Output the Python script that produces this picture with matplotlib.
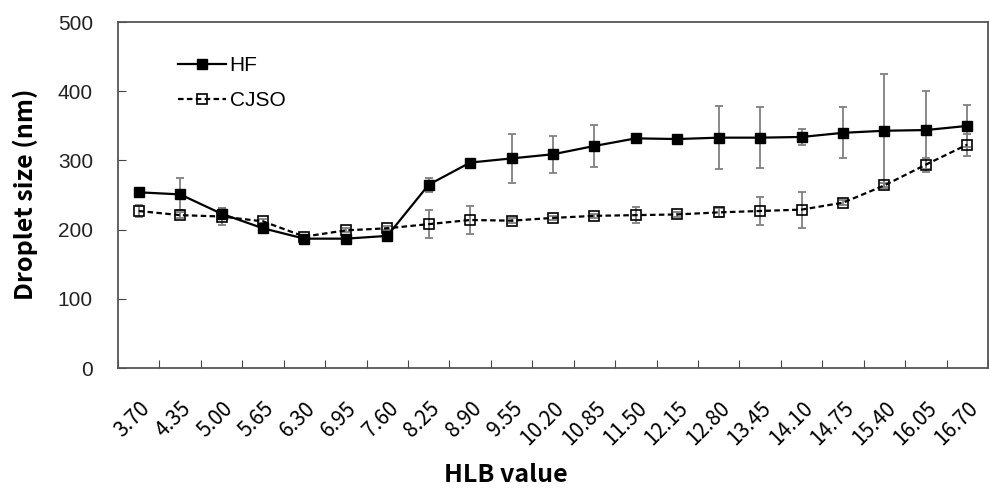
import numpy as np
import matplotlib
matplotlib.use("Agg")
import matplotlib.pyplot as plt
import matplotlib.transforms as mtransforms

# HLB values of the surfactant blends
hlb_labels = ["3.70", "4.35", "5.00", "5.65", "6.30", "6.95", "7.60", "8.25", "8.90",
              "9.55", "10.20", "10.85", "11.50", "12.15", "12.80", "13.45", "14.10",
              "14.75", "15.40", "16.05", "16.70"]

# mean droplet size (nm) and standard deviation
hf_size = [254, 251, 223, 202, 187, 187, 191, 265, 297, 303, 309, 321, 332, 331,
           333, 333, 334, 340, 343, 344, 350]
hf_sd = [5, 23, 8, 4, 4, 4, 4, 10, 3, 35, 27, 30, 3, 2, 46, 44, 11, 37, 82, 57, 30]

cjso_size = [227, 221, 219, 212, 190, 199, 202, 208, 214, 213, 217, 220, 221, 222,
             225, 227, 229, 239, 264, 294, 323]
cjso_sd = [9, 4, 12, 3, 3, 3, 3, 20, 20, 4, 3, 3, 12, 3, 6, 20, 26, 4, 4, 10, 16]

x = np.arange(len(hlb_labels))

fig = plt.figure(figsize=(9.89, 4.92), dpi=100)
ax = fig.add_axes([0.1193, 0.252, 0.8797, 0.703])

err_kw = dict(fmt="none", ecolor="#808080", elinewidth=1.3, capsize=3, capthick=1.3, zorder=2)
ax.errorbar(x, hf_size, yerr=hf_sd, **err_kw)
ax.errorbar(x, cjso_size, yerr=cjso_sd, **err_kw)

ax.plot(x, hf_size, color="black", lw=1.6, marker="s", markersize=7,
        markerfacecolor="black", markeredgecolor="black", label="HF", zorder=3)
ax.plot(x, cjso_size, color="black", lw=1.6, ls=(0, (2.5, 1.5)), marker="s", markersize=6.5,
        markerfacecolor="none", markeredgecolor="black", markeredgewidth=1.2,
        label="CJSO", zorder=3)

ax.set_xlim(-0.5, len(x) - 0.5)
ax.set_ylim(0, 500)
ax.set_yticks(range(0, 501, 100))
ax.set_yticklabels([str(v) for v in range(0, 501, 100)], fontsize=15,
                   family="Liberation Sans", color="#222222")

# ticks at category boundaries, labels at category centres
ax.set_xticks(np.arange(len(x) + 1) - 0.5)
ax.set_xticklabels([])
ax.set_xticks(x, minor=True)
ax.set_xticklabels(hlb_labels, minor=True, rotation=45, ha="right",
                   rotation_mode="anchor", fontsize=15, family="Noto Sans CJK KR")
shift = mtransforms.ScaledTranslation(-6 / 100, 0, fig.dpi_scale_trans)
for lbl in ax.get_xticklabels(minor=True):
    lbl.set_transform(lbl.get_transform() + shift)
ax.tick_params(axis="x", which="minor", length=0, pad=21)
ax.tick_params(axis="x", which="major", direction="in", length=6, color="#444444")
ax.tick_params(axis="y", direction="in", length=6, color="#444444", pad=18)

for sp in ax.spines.values():
    sp.set_color("#555555")
    sp.set_linewidth(1.3)

leg = ax.legend(loc="upper left", bbox_to_anchor=(0.048, 0.955), frameon=False,
                prop={"family": "Liberation Sans", "size": 15}, handlelength=2.3,
                handletextpad=0.15, labelspacing=0.75)

fig.text(0.026, 0.606, "Droplet size (nm)", rotation=90, ha="center", va="center",
         fontsize=18, fontweight="bold", family="Noto Sans CJK KR")
fig.text(0.511, 0.035, "HLB value", ha="center", va="center",
         fontsize=18, fontweight="bold", family="Noto Sans CJK KR")

fig.savefig("out.png", dpi=100)
